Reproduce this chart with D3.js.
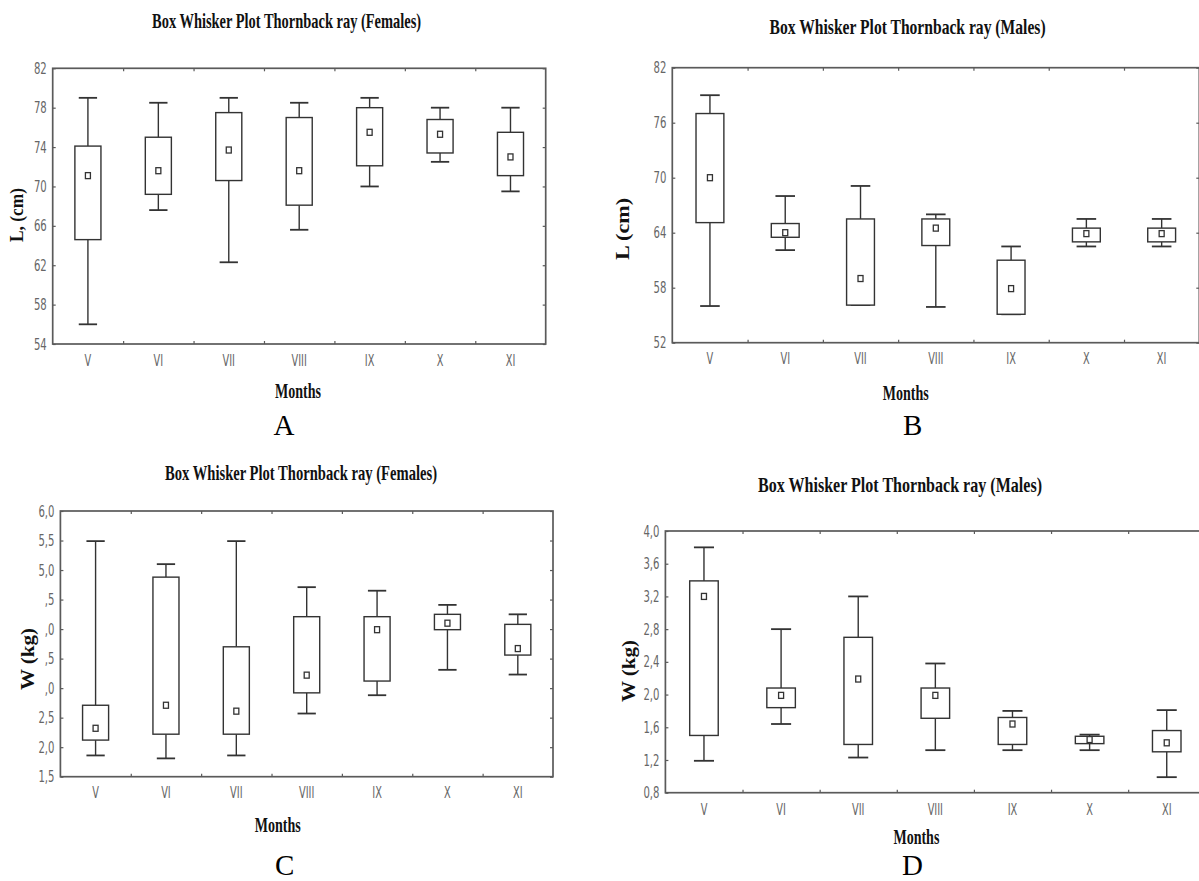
<!DOCTYPE html>
<html>
<head>
<meta charset="utf-8">
<script src="https://cdn.jsdelivr.net/npm/d3@7"></script>
<style>
  html, body { margin: 0; padding: 0; background: #fff; }
  svg { display: block; }
  .tick text { font-family: "Liberation Sans Narrow", "DejaVu Sans Condensed", "Arial Narrow", "Liberation Sans", sans-serif; fill: #666; }
</style>
</head>
<body>
<svg id="chart" width="1199" height="881"></svg>
<script>
// ---------- DATA ----------
const months = ["V", "VI", "VII", "VIII", "IX", "X", "XI"];

// A: Females, length (cm)
const aMax  = [79.0, 78.5, 79.0, 78.5, 79.0, 78.0, 78.0];
const aQ3   = [74.1, 75.0, 77.5, 77.0, 78.0, 76.8, 75.5];
const aMean = [71.1, 71.6, 73.7, 71.6, 75.5, 75.3, 73.0];
const aQ1   = [64.6, 69.2, 70.6, 68.1, 72.1, 73.4, 71.1];
const aMin  = [56.0, 67.6, 62.3, 65.6, 70.0, 72.5, 69.5];
const aTicks = [54, 58, 62, 66, 70, 74, 78, 82];
const aTickLabels = ["54", "58", "62", "66", "70", "74", "78", "82"];

// B: Males, length (cm)
const bMax  = [79.0, 68.0, 69.1, 66.0, 62.5, 65.5, 65.5];
const bQ3   = [77.0, 65.0, 65.5, 65.5, 61.0, 64.5, 64.5];
const bMean = [70.0, 64.0, 59.0, 64.5, 57.9, 63.9, 63.9];
const bQ1   = [65.1, 63.5, 56.1, 62.6, 55.1, 63.0, 63.0];
const bMin  = [56.0, 62.1, 56.1, 55.9, 55.1, 62.5, 62.5];
const bTicks = [52, 58, 64, 70, 76, 82];
const bTickLabels = ["52", "58", "64", "70", "76", "82"];

// C: Females, weight (kg)
const cMax  = [5.49, 5.10, 5.49, 4.71, 4.65, 4.41, 4.25];
const cQ3   = [2.71, 4.88, 3.70, 4.21, 4.21, 4.25, 4.08];
const cMean = [2.32, 2.71, 2.61, 3.22, 3.99, 4.10, 3.67];
const cQ1   = [2.12, 2.22, 2.22, 2.92, 3.12, 3.99, 3.56];
const cMin  = [1.86, 1.81, 1.86, 2.57, 2.88, 3.31, 3.23];
const cTicks = [1.5, 2.0, 2.5, 3.0, 3.5, 4.0, 4.5, 5.0, 5.5, 6.0];
const cTickLabels = ["1,5", "2,0", "2,5", ",0", ",5", ",0", ",5", "5,0", "5,5", "6,0"];

// D: Males, weight (kg)
const dMax  = [3.80, 2.80, 3.20, 2.38, 1.80, 1.51, 1.81];
const dQ3   = [3.39, 2.08, 2.70, 2.08, 1.72, 1.49, 1.56];
const dMean = [3.20, 1.99, 2.19, 1.99, 1.64, 1.45, 1.41];
const dQ1   = [1.50, 1.84, 1.39, 1.71, 1.39, 1.40, 1.30];
const dMin  = [1.19, 1.64, 1.23, 1.32, 1.32, 1.32, 0.99];
const dTicks = [0.8, 1.2, 1.6, 2.0, 2.4, 2.8, 3.2, 3.6, 4.0];
const dTickLabels = ["0,8", "1,2", "1,6", "2,0", "2,4", "2,8", "3,2", "3,6", "4,0"];

const titleF = "Box Whisker Plot Thornback ray (Females)";
const titleM = "Box Whisker Plot Thornback ray (Males)";

// ---------- LAYOUT ----------
const panels = [
  { max: aMax, q3: aQ3, mean: aMean, q1: aQ1, min: aMin, ticks: aTicks, labels: aTickLabels,
    title: titleF, ylab: "L, (cm)", letter: "A",
    left: 52.7, right: 545.7, top: 68.3, bottom: 344,
    titleX: 286.6, titleY: 28, titleW: 269,
    ylabX: 17, ylabY: 215, ylabW: 54,
    monthsX: 298, monthsY: 398, letterX: 284, letterY: 435, xPad: 11 },
  { max: bMax, q3: bQ3, mean: bMean, q1: bQ1, min: bMin, ticks: bTicks, labels: bTickLabels,
    title: titleM, ylab: "L (cm)", letter: "B",
    left: 672.3, right: 1199.3, top: 67.7, bottom: 342.7,
    titleX: 907.6, titleY: 34, titleW: 276,
    ylabX: 623, ylabY: 229, ylabW: 62,
    monthsX: 905.7, monthsY: 400, letterX: 912.6, letterY: 435, xPad: 10.5 },
  { max: cMax, q3: cQ3, mean: cMean, q1: cQ1, min: cMin, ticks: cTicks, labels: cTickLabels,
    title: titleF, ylab: "W (kg)", letter: "C",
    left: 60.4, right: 553, top: 511, bottom: 776.7,
    titleX: 301, titleY: 480, titleW: 272,
    ylabX: 28, ylabY: 659, ylabW: 62,
    monthsX: 277.8, monthsY: 832, letterX: 284.7, letterY: 875, xPad: 10 },
  { max: dMax, q3: dQ3, mean: dMean, q1: dQ1, min: dMin, ticks: dTicks, labels: dTickLabels,
    title: titleM, ylab: "W (kg)", letter: "D",
    left: 665.4, right: 1205.3, top: 531, bottom: 792.7,
    titleX: 900, titleY: 492, titleW: 284,
    ylabX: 628.7, ylabY: 671, ylabW: 62,
    monthsX: 916.4, monthsY: 844, letterX: 912.6, letterY: 875, xPad: 11 }
];

const svg = d3.select("#chart");
const serif = "'Liberation Serif', 'Times New Roman', 'DejaVu Serif', serif";
const boxColor = "#333";
const frameColor = "#5a5a5a";

function narrow(sel, factor) {
  sel.each(function () {
    const len = this.getComputedTextLength();
    if (len > 0) {
      d3.select(this).attr("textLength", len * factor).attr("lengthAdjust", "spacingAndGlyphs");
    }
  });
}

panels.forEach(p => {
  const g = svg.append("g");
  const x = d3.scaleBand().domain(months).range([p.left, p.right]).paddingInner(0).paddingOuter(0);
  const y = d3.scaleLinear().domain([p.ticks[0], p.ticks[p.ticks.length - 1]]).range([p.bottom, p.top]);
  const bw = x.bandwidth();
  const fmt = d => p.labels[p.ticks.indexOf(d)];

  // left axis (labels + inward ticks)
  const yAxis = g.append("g").attr("transform", `translate(${p.left},0)`)
    .call(d3.axisLeft(y).tickValues(p.ticks).tickFormat(fmt).tickSizeInner(-3).tickSizeOuter(0).tickPadding(6));
  yAxis.select(".domain").remove();
  yAxis.selectAll("line").attr("stroke", frameColor).attr("stroke-width", 1.2);
  yAxis.selectAll("text").attr("font-size", 16).call(narrow, 0.7);

  // right axis inward ticks
  const yAxisR = g.append("g").attr("transform", `translate(${p.right},0)`)
    .call(d3.axisRight(y).tickValues(p.ticks).tickFormat("").tickSizeInner(-3).tickSizeOuter(0));
  yAxisR.select(".domain").remove();
  yAxisR.selectAll("line").attr("stroke", frameColor).attr("stroke-width", 1.2);

  // bottom axis labels
  const xAxis = g.append("g").attr("transform", `translate(0,${p.bottom})`)
    .call(d3.axisBottom(x).tickSize(0).tickPadding(p.xPad));
  xAxis.select(".domain").remove();
  xAxis.selectAll("text").attr("font-size", 15.5).call(narrow, 0.7);

  // band-boundary ticks on top and bottom (inward)
  const bounds = months.slice(1).map(m => x(m));
  const bScale = d3.scaleLinear().domain([p.left, p.right]).range([p.left, p.right]);
  const xb = g.append("g").attr("transform", `translate(0,${p.bottom})`)
    .call(d3.axisBottom(bScale).tickValues(bounds).tickFormat("").tickSizeInner(-3).tickSizeOuter(0));
  xb.select(".domain").remove();
  xb.selectAll("line").attr("stroke", frameColor).attr("stroke-width", 1.2);
  const xt = g.append("g").attr("transform", `translate(0,${p.top})`)
    .call(d3.axisTop(bScale).tickValues(bounds).tickFormat("").tickSizeInner(-3).tickSizeOuter(0));
  xt.select(".domain").remove();
  xt.selectAll("line").attr("stroke", frameColor).attr("stroke-width", 1.2);

  // frame
  g.append("rect")
    .attr("x", p.left).attr("y", p.top)
    .attr("width", p.right - p.left).attr("height", p.bottom - p.top)
    .attr("fill", "none").attr("stroke", frameColor).attr("stroke-width", 1.7);

  // boxes
  const boxW = bw * 0.37, capW = bw * 0.26;
  months.forEach((m, i) => {
    const cx = x(m) + bw / 2;
    const gg = g.append("g").attr("stroke", boxColor).attr("stroke-width", 1.4).attr("fill", "none");
    gg.append("line").attr("x1", cx).attr("x2", cx).attr("y1", y(p.max[i])).attr("y2", y(p.q3[i]));
    gg.append("line").attr("x1", cx).attr("x2", cx).attr("y1", y(p.q1[i])).attr("y2", y(p.min[i]));
    gg.append("line").attr("x1", cx - capW / 2).attr("x2", cx + capW / 2).attr("y1", y(p.max[i])).attr("y2", y(p.max[i])).attr("stroke-width", 1.8);
    gg.append("line").attr("x1", cx - capW / 2).attr("x2", cx + capW / 2).attr("y1", y(p.min[i])).attr("y2", y(p.min[i])).attr("stroke-width", 1.8);
    gg.append("rect")
      .attr("x", cx - boxW / 2).attr("y", y(p.q3[i]))
      .attr("width", boxW).attr("height", y(p.q1[i]) - y(p.q3[i]))
      .attr("fill", "#fff");
    gg.append("rect")
      .attr("x", cx - 2.5).attr("y", y(p.mean[i]) - 3)
      .attr("width", 5).attr("height", 6)
      .attr("fill", "#fff").attr("stroke-width", 1.3);
  });

  // titles and labels
  g.append("text")
    .attr("x", p.titleX).attr("y", p.titleY)
    .attr("text-anchor", "middle")
    .attr("font-family", serif).attr("font-weight", "bold").attr("font-size", 22)
    .attr("textLength", p.titleW).attr("lengthAdjust", "spacingAndGlyphs")
    .attr("fill", "#111")
    .text(p.title);

  g.append("text")
    .attr("transform", `translate(${p.ylabX},${p.ylabY}) rotate(-90)`)
    .attr("text-anchor", "middle").attr("dominant-baseline", "central")
    .attr("font-family", serif).attr("font-weight", "bold").attr("font-size", 18)
    .attr("textLength", p.ylabW).attr("lengthAdjust", "spacingAndGlyphs")
    .attr("fill", "#111")
    .text(p.ylab);

  g.append("text")
    .attr("x", p.monthsX).attr("y", p.monthsY)
    .attr("text-anchor", "middle")
    .attr("font-family", serif).attr("font-weight", "bold").attr("font-size", 20)
    .attr("textLength", 46).attr("lengthAdjust", "spacingAndGlyphs")
    .attr("fill", "#111")
    .text("Months");

  g.append("text")
    .attr("x", p.letterX).attr("y", p.letterY)
    .attr("text-anchor", "middle")
    .attr("font-family", serif).attr("font-size", 29)
    .attr("fill", "#000")
    .text(p.letter);
});
</script>
</body>
</html>
